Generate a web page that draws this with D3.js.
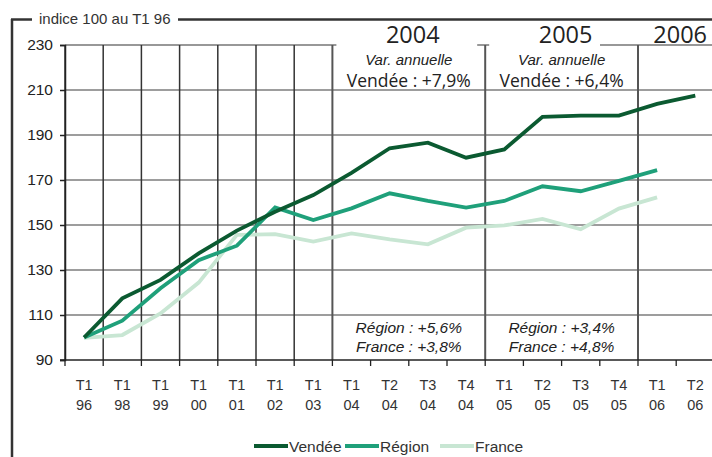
<!DOCTYPE html>
<html>
<head>
<meta charset="utf-8">
<script src="https://cdn.jsdelivr.net/npm/d3@7"></script>
<style>
  body { margin: 0; background: #fff; }
  svg { display: block; font-family: "Liberation Sans", Arial, sans-serif; }
</style>
</head>
<body>
<div id="chart"></div>
<script>
// quarter + year labels, one per point
const quarters = ["T1","T1","T1","T1","T1","T1","T1","T1","T2","T3","T4","T1","T2","T3","T4","T1","T2"];
const years    = ["96","98","99","00","01","02","03","04","04","04","04","05","05","05","05","06","06"];

// index 100 au T1 96
const vendee = [100, 117.4, 125.6, 137.4, 147.5, 155.9, 163.3, 173.2, 184.1, 186.6, 179.9, 183.6, 198.1, 198.6, 198.6, 203.8, 207.5];
const region = [100, 107.5, 121.9, 134.4, 140.8, 157.8, 152.2, 157.4, 164.1, 160.7, 157.7, 160.7, 167.2, 165.0, 169.6, 174.4];
const france = [99.8, 101.1, 110.7, 124.4, 145.6, 145.9, 142.6, 146.3, 143.6, 141.4, 148.8, 149.8, 152.7, 148.1, 157.3, 162.3];

const yTicks = [90, 110, 130, 150, 170, 190, 210, 230];

const series = [
  { name: "Vendée", values: vendee, color: "#0b5a31" },
  { name: "Région", values: region, color: "#1fa07a" },
  { name: "France", values: france, color: "#c8e6d3" }
];

// year blocks after 2003 : label, annual variation texts
const blocks = [
  { year: "2004", first: 7,  last: 10, vendee: "Vendée : +7,9%", region: "Région : +5,6%", france: "France : +3,8%" },
  { year: "2005", first: 11, last: 14, vendee: "Vendée : +6,4%", region: "Région : +3,4%", france: "France : +4,8%" },
  { year: "2006", first: 15, last: 16 }
];

const W = 712, H = 457;
const plotLeft = 65, plotTop = 45, plotBottom = 360;

const svg = d3.select("#chart").append("svg")
  .attr("width", W).attr("height", H);

const idx = d3.range(quarters.length);
const x = d3.scaleBand().domain(idx).range([plotLeft, 714.4]).padding(0);
const y = d3.scaleLinear().domain([90, 230]).range([plotBottom, plotTop]);
const cx = i => x(i) + x.bandwidth() / 2;

// frame (top line broken by the title, left line)
const frame = svg.append("g").attr("stroke", "#333").attr("stroke-width", 2.5);
frame.append("line").attr("x1", 12).attr("x2", 12).attr("y1", 19).attr("y2", H);
frame.append("line").attr("x1", 11).attr("x2", 32).attr("y1", 19.5).attr("y2", 19.5);
frame.append("line").attr("x1", 178).attr("x2", W).attr("y1", 19.5).attr("y2", 19.5);
svg.append("text").attr("x", 39).attr("y", 24)
  .attr("font-size", 15).attr("fill", "#333").text("indice 100 au T1 96");

// horizontal gridlines
svg.append("g").selectAll("line")
  .data(yTicks.filter(v => v > 90 && v < 230))
  .join("line")
  .attr("x1", plotLeft).attr("x2", W)
  .attr("y1", d => y(d)).attr("y2", d => y(d))
  .attr("stroke", "#7d7d7d").attr("stroke-width", 1.6);

// top line (230)
svg.append("line").attr("x1", plotLeft).attr("x2", W)
  .attr("y1", y(230)).attr("y2", y(230))
  .attr("stroke", "#333").attr("stroke-width", 1.2);

// white boxes behind annual variation text
blocks.filter(b => b.vendee).forEach(b => {
  svg.append("rect")
    .attr("x", x(b.first) + 4).attr("y", y(230) - 1)
    .attr("width", (x(b.last) + x.bandwidth()) - x(b.first) - 12 - (b.year === "2005" ? 30 : 0))
    .attr("height", 6).attr("fill", "#fff");
});

// vertical gridlines : every quarter to 2004, then only year breaks
const vLines = d3.range(0, 8).concat([11, 15]);
svg.append("g").selectAll("line")
  .data(vLines)
  .join("line")
  .attr("x1", d => x(d)).attr("x2", d => x(d))
  .attr("y1", plotTop).attr("y2", plotBottom)
  .attr("stroke", d => d >= 7 ? "#555" : "#333")
  .attr("stroke-width", d => d >= 7 ? 2 : 1.5);

// y axis
const yAxis = svg.append("g")
  .attr("transform", `translate(${plotLeft},0)`)
  .call(d3.axisLeft(y).tickValues(yTicks).tickSize(5).tickPadding(7));
yAxis.select(".domain").attr("stroke", "#222").attr("stroke-width", 1.5);
yAxis.selectAll(".tick line").attr("stroke", "#222").attr("stroke-width", 1.5);
yAxis.selectAll("text").attr("font-size", 15.5).attr("fill", "#222")
  .attr("font-family", "Liberation Sans, Arial, sans-serif");

// x axis line + ticks on quarter boundaries
const xg = svg.append("g");
xg.append("line").attr("x1", plotLeft - 5).attr("x2", W)
  .attr("y1", plotBottom).attr("y2", plotBottom)
  .attr("stroke", "#222").attr("stroke-width", 1.5);
xg.selectAll("line.tk")
  .data(idx)
  .join("line").attr("class", "tk")
  .attr("x1", d => x(d)).attr("x2", d => x(d))
  .attr("y1", plotBottom).attr("y2", plotBottom + 6)
  .attr("stroke", "#222").attr("stroke-width", 1.3);
const lab = xg.selectAll("text.lab")
  .data(idx)
  .join("text").attr("class", "lab")
  .attr("text-anchor", "middle")
  .attr("font-size", 14.5).attr("fill", "#333");
lab.append("tspan").attr("x", d => cx(d)).attr("y", 390).text(d => quarters[d]);
lab.append("tspan").attr("x", d => cx(d)).attr("y", 410).text(d => years[d]);

// annotations
blocks.forEach(b => {
  const mid = (x(b.first) + x(b.last) + x.bandwidth()) / 2;
  svg.append("text").attr("x", mid + 4).attr("y", 43)
    .attr("text-anchor", "middle").attr("font-family", "Open Sans, sans-serif")
    .attr("font-size", 23.5).attr("fill", "#222").text(b.year);
  if (!b.vendee) return;
  svg.append("text").attr("x", mid).attr("y", 65)
    .attr("text-anchor", "middle").attr("font-style", "italic")
    .attr("font-size", 15).attr("fill", "#222").text("Var. annuelle");
  svg.append("text").attr("x", mid).attr("y", 87)
    .attr("text-anchor", "middle").attr("font-family", "Open Sans, sans-serif")
    .attr("font-size", 17.5).attr("fill", "#222").text(b.vendee);
  svg.append("text").attr("x", mid).attr("y", 333)
    .attr("text-anchor", "middle").attr("font-style", "italic")
    .attr("font-size", 15.5).attr("fill", "#222").text(b.region);
  svg.append("text").attr("x", mid).attr("y", 352)
    .attr("text-anchor", "middle").attr("font-style", "italic")
    .attr("font-size", 15.5).attr("fill", "#222").text(b.france);
});

// series lines (France below, Vendée on top)
const line = d3.line().x((d, i) => cx(i)).y(d => y(d));
svg.append("g").selectAll("path")
  .data(series.slice().reverse())
  .join("path")
  .attr("d", d => line(d.values))
  .attr("fill", "none")
  .attr("stroke", d => d.color)
  .attr("stroke-width", 3.8)
  .attr("stroke-linejoin", "miter");

// legend
const legendX = [254, 345, 440];
const lg = svg.append("g").selectAll("g")
  .data(series)
  .join("g")
  .attr("transform", (d, i) => `translate(${legendX[i]},446)`);
lg.append("line").attr("x1", 0).attr("x2", 34)
  .attr("stroke", d => d.color).attr("stroke-width", 4);
lg.append("text").attr("x", 35).attr("y", 5.5)
  .attr("font-size", 15.5).attr("fill", "#333").text(d => d.name);
</script>
</body>
</html>
